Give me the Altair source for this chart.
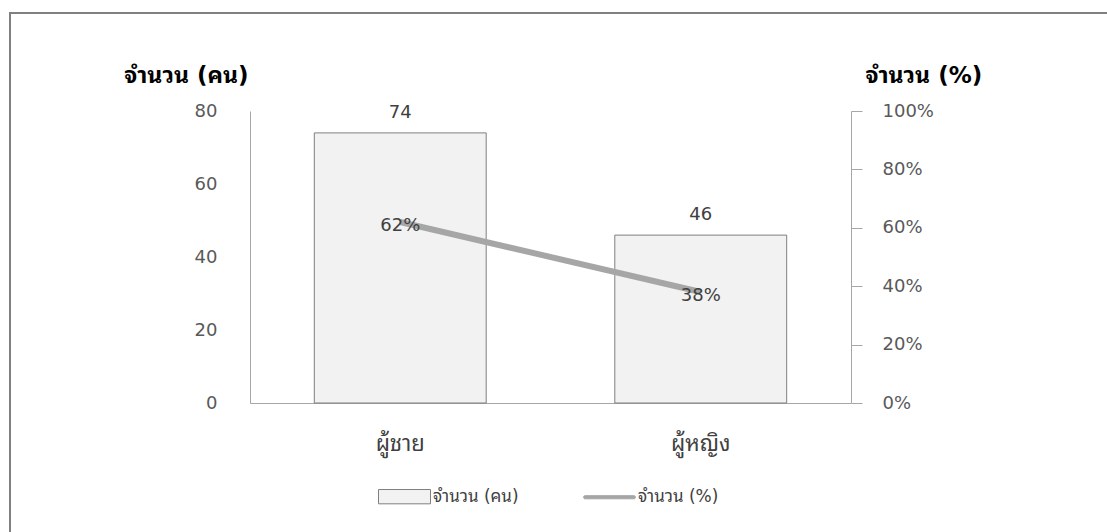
import altair as alt
import pandas as pd

# Respondents by gender: head count (left axis) and share (right axis)
categories = ["ผู้ชาย", "ผู้หญิง"]
counts = [74, 46]
shares = [0.62, 0.38]
series_names = ["จำนวน (คน)", "จำนวน (%)"]
count_ticks = [0, 20, 40, 60, 80]
share_ticks = [0, 0.2, 0.4, 0.6, 0.8, 1.0]

FONT = "'DejaVu Sans', 'Noto Sans Thai Looped', 'Noto Sans Thai', 'Noto Sans', sans-serif"
GRID_GREY = "#a6a6a6"
TEXT_GREY = "#595959"

df = pd.DataFrame({"category": categories, "count": counts, "share": shares})
legend_df = pd.DataFrame({"series": series_names})

x_enc = alt.X(
    "category:N",
    sort=categories,
    scale=alt.Scale(paddingInner=0.428, paddingOuter=0.214),
    axis=alt.Axis(
        title=None, labelAngle=0, labelPadding=30, ticks=False, tickSize=0,
        domainColor=GRID_GREY, labelColor="#404040", labelFontSize=22,
    ),
)

# Chart-area frame drawn around everything
frame = alt.Chart(pd.DataFrame({"k": [0]})).mark_rect(
    filled=False, stroke="#808080", strokeWidth=2
).encode(
    x=alt.value(-240), x2=alt.value(900),
    y=alt.value(-98), y2=alt.value(520),
)

count_y = alt.Y(
    "count:Q",
    scale=alt.Scale(domain=[0, 80]),
    axis=alt.Axis(
        values=count_ticks, title="จำนวน (คน)", titleAngle=0,
        titleX=-2, titleY=-36, titleAlign="right", titleBaseline="middle",
        titleFontSize=23, titleFontWeight="bold", titleColor="#000000",
        ticks=False, tickSize=0, labelPadding=33, grid=False,
        domainColor=GRID_GREY, labelColor=TEXT_GREY, labelFontSize=18,
    ),
)

bars = alt.Chart(df).mark_bar(
    fill="#f2f2f2", stroke="#7f7f7f", strokeWidth=1
).encode(x=x_enc, y=count_y)

bar_labels = alt.Chart(df).mark_text(
    dy=-20, fontSize=18, color="#404040", baseline="middle"
).encode(x=x_enc, y=alt.Y("count:Q"), text=alt.Text("count:Q"))

share_y = alt.Y(
    "share:Q",
    scale=alt.Scale(domain=[0, 1]),
    axis=alt.Axis(
        orient="right", values=share_ticks, format=".0%",
        title="จำนวน (%)", titleAngle=0,
        titleX=14, titleY=-36, titleAlign="left", titleBaseline="middle",
        titleFontSize=23, titleFontWeight="bold", titleColor="#000000",
        ticks=True, tickSize=11, tickColor=GRID_GREY, labelPadding=20,
        grid=False, domainColor=GRID_GREY, labelColor=TEXT_GREY,
        labelFontSize=18,
    ),
)

line = alt.Chart(df).mark_line(
    color="#a6a6a6", strokeWidth=6
).encode(x=x_enc, y=share_y)

line_labels = alt.Chart(df).mark_text(
    dy=4, fontSize=18, color="#404040", baseline="middle"
).encode(
    x=x_enc, y=alt.Y("share:Q"),
    text=alt.Text("share:Q", format=".0%"),
)

# Legend-only layer: no rows drawn, entries come from the scale domain
legend_paths = [
    "M-1,-0.275L1,-0.275L1,0.275L-1,0.275Z",
    "M-0.94,-0.06L0.94,-0.06A0.06,0.06 0 0,1 0.94,0.06L-0.94,0.06A0.06,0.06 0 0,1 -0.94,-0.06Z",
]
legend_spec = alt.Legend(
    title=None, orient="none", direction="horizontal",
    legendX=128, legendY=359,
    symbolSize=2704, symbolOpacity=1, labelFontSize=17, labelColor="#404040",
    labelOffset=2, columnPadding=62, symbolStrokeWidth=1,
)
legend_layer = alt.Chart(legend_df).transform_filter("false").mark_point(
    filled=True, opacity=1
).encode(
    fill=alt.Fill("series:N", sort=series_names,
                  scale=alt.Scale(domain=series_names, range=["#f2f2f2", "#a6a6a6"]),
                  legend=legend_spec),
    stroke=alt.Stroke("series:N", sort=series_names,
                      scale=alt.Scale(domain=series_names, range=["#7f7f7f", "#a6a6a6"]),
                      legend=legend_spec),
    shape=alt.Shape("series:N", sort=series_names,
                    scale=alt.Scale(domain=series_names, range=legend_paths),
                    legend=legend_spec),
)

left = alt.layer(bars, bar_labels)
right = alt.layer(line, line_labels)

chart = alt.layer(frame, left, right, legend_layer).resolve_scale(
    y="independent"
).properties(
    width=601, height=292,
    autosize=alt.AutoSizeParams(type="none"),
    padding={"left": 250, "top": 111, "right": 256, "bottom": 129},
).configure(
    font=FONT,
).configure_view(
    stroke=None,
)

chart.save("out.html", embed_options={"renderer": "svg", "actions": False})
